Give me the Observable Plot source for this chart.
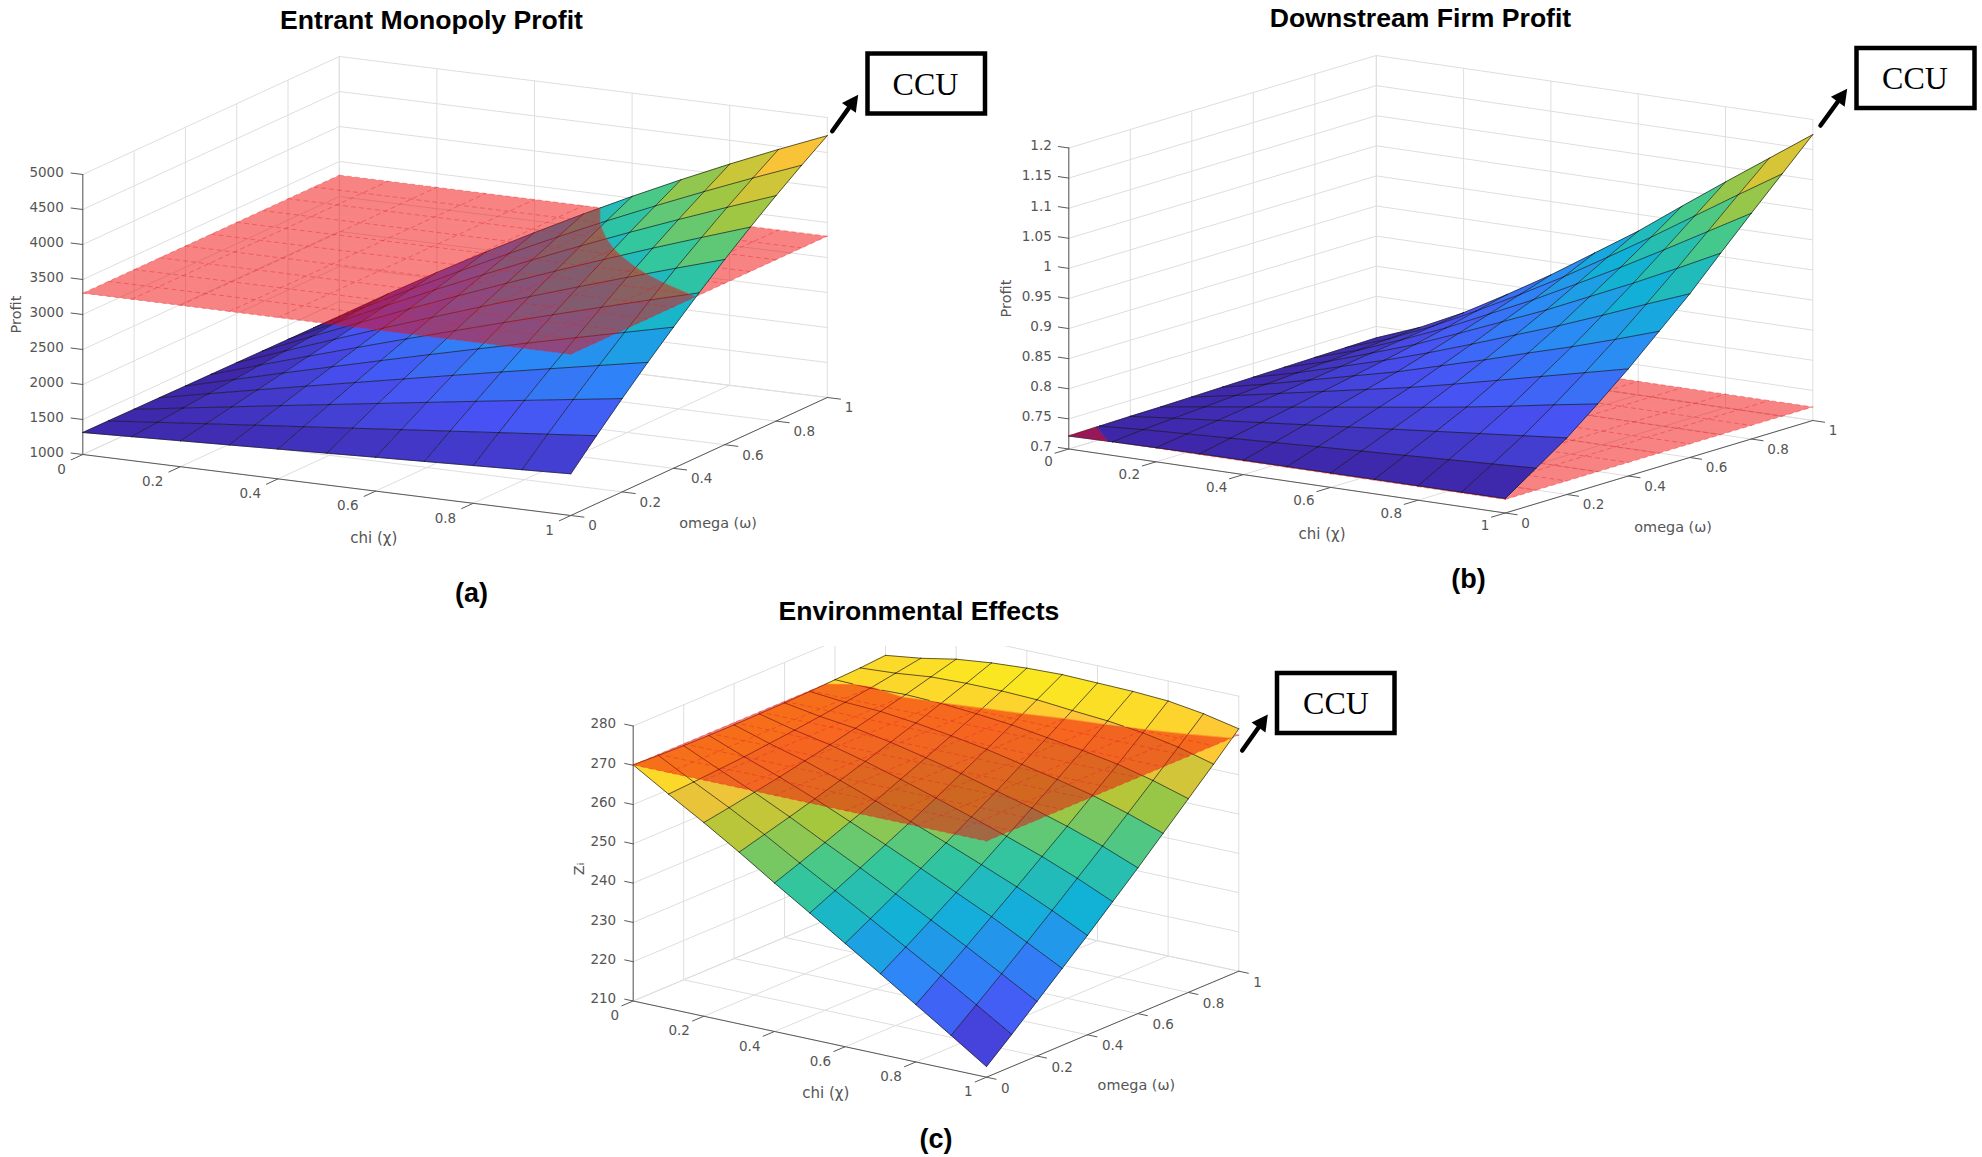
<!DOCTYPE html>
<html><head><meta charset="utf-8">
<style>html,body{margin:0;padding:0;background:#fff}svg{display:block}</style>
<script src="https://cdn.jsdelivr.net/npm/d3@7"></script>
<script src="https://cdn.jsdelivr.net/npm/@observablehq/plot@0.6"></script>
</head><body><div id="chart"></div>
<script>
// ---- data ----
const chiValues   = [0,.1,.2,.3,.4,.5,.6,.7,.8,.9,1];
const omegaValues = [0,.1,.2,.3,.4,.5,.6,.7,.8,.9,1];
const axisTicks   = [0,.2,.4,.6,.8,1];

// rows: omega, columns: chi
const entrantProfit = [
 [1314,1342,1370,1398,1426,1455,1483,1511,1539,1567,1595],
 [1312,1378,1445,1511,1577,1643,1710,1775,1841,1906,1971],
 [1309,1414,1518,1622,1725,1828,1930,2032,2133,2233,2333],
 [1307,1450,1592,1732,1871,2009,2147,2283,2417,2550,2682],
 [1304,1485,1664,1840,2015,2188,2358,2526,2691,2855,3016],
 [1302,1521,1736,1948,2157,2362,2565,2763,2958,3150,3338],
 [1300,1557,1808,2055,2297,2534,2767,2994,3216,3434,3646],
 [1297,1591,1879,2160,2434,2701,2963,3217,3465,3705,3940],
 [1295,1627,1950,2264,2569,2866,3155,3435,3705,3967,4221],
 [1292,1661,2019,2366,2702,3027,3342,3644,3936,4217,4487],
 [1290,1696,2089,2468,2833,3185,3524,3849,4160,4457,4741]
];
const downstreamProfit = [
 [.7215,.7226,.7235,.724,.724,.724,.724,.724,.724,.724,.724],
 [.7226,.7275,.731,.7345,.738,.7415,.745,.7485,.752,.7555,.759],
 [.7235,.731,.738,.745,.752,.759,.766,.773,.780,.787,.794],
 [.724,.7345,.745,.7555,.766,.7765,.787,.798,.810,.823,.835],
 [.725,.738,.752,.766,.780,.794,.810,.827,.844,.861,.878],
 [.726,.7415,.759,.7765,.794,.8145,.835,.857,.878,.901,.925],
 [.727,.745,.766,.787,.810,.835,.861,.887,.915,.944,.972],
 [.728,.7485,.773,.798,.827,.857,.887,.920,.953,.988,1.024],
 [.729,.752,.780,.810,.844,.878,.915,.953,.993,1.034,1.075],
 [.730,.7555,.787,.823,.861,.901,.944,.988,1.034,1.080,1.125],
 [.731,.759,.794,.835,.878,.925,.972,1.024,1.075,1.125,1.175]
];
const environmentalEffects = [
 [270.1,264.6,259.3,253.7,247.8,242.1,236.3,230.5,224.6,218.7,212.7],
 [269.8,265.0,260.4,255.5,250.2,245.1,239.9,234.6,229.3,223.8,218.2],
 [269.6,265.5,261.6,257.3,252.7,248.2,243.5,238.8,234.0,229.0,223.9],
 [269.5,266.0,262.8,259.2,255.3,251.4,247.3,243.1,238.9,234.3,229.6],
 [269.5,266.7,264.2,261.2,257.9,254.6,251.1,247.5,243.8,239.7,235.3],
 [269.6,267.4,265.6,263.3,260.7,257.9,255.0,252.0,248.8,245.2,241.2],
 [269.7,268.2,267.1,265.5,263.5,261.4,258.9,256.5,253.8,250.7,247.1],
 [269.9,269.1,268.7,267.7,266.4,264.9,263.0,261.1,259.0,256.3,253.2],
 [270.2,270.0,270.3,270.0,269.3,268.4,267.1,265.8,264.2,262.0,259.3],
 [270.5,271.1,272.1,272.4,272.4,272.1,271.3,270.6,269.5,267.8,265.4],
 [271.0,272.2,273.9,274.9,275.5,275.8,275.6,275.4,274.9,273.6,271.7]
];
const entrantPlane = 3305, downstreamPlane = .7225, environmentPlane = 270.1;

const entrantTicks    = [1000,1500,2000,2500,3000,3500,4000,4500,5000];
const downstreamTicks = [.7,.75,.8,.85,.9,.95,1,1.05,1.1,1.15,1.2];
const environmentTicks= [210,220,230,240,250,260,270,280];

const parulaStops  = [0,1/7,2/7,3/7,4/7,5/7,6/7,1];
const parulaColors = ["#3e26a8","#4852f4","#2d87f7","#12b1d6","#37c897","#abc739","#fec338","#f9fb14"];

// ---- layout of the three views ----
const views = [
 {grid:entrantProfit, plane:entrantPlane, ticks:entrantTicks, zMin:1000, zMax:5000,
  O:[82.3,454], A:[488,61], B:[256.5,-118], H:280,
  title:"Entrant Monopoly Profit", titleAt:[431,20], tag:"(a)", tagAt:[471,593],
  zLabel:"Profit", zLabelAt:[15.7,314], chiOff:[-17,15], omOff:[17.5,10.5], chiTitle:[47,53], omTitle:[19,67], zOff:-19,
  box:[867.5,985,53.5,113.5], ccuAt:[925,84], arrow:[831.7,130.7,857.7,94.3]},
 {grid:downstreamProfit, plane:downstreamPlane, ticks:downstreamTicks, zMin:.7, zMax:1.2,
  O:[1068.3,448.5], A:[436.5,64], B:[307.5,-92.5], H:301,
  title:"Downstream Firm Profit", titleAt:[1420,18], tag:"(b)", tagAt:[1468,579],
  zLabel:"Profit", zLabelAt:[1005.6,298], chiOff:[-16,13], omOff:[16,10.5], chiTitle:[35,53], omTitle:[14,61], zOff:-17,
  box:[1856.5,1974.5,48,108], ccuAt:[1914.5,78], arrow:[1820,125,1846.7,88.3]},
 {grid:environmentalEffects, plane:environmentPlane, ticks:environmentTicks, zMin:210, zMax:280,
  O:[632.7,1000.5], A:[353.3,76.2], B:[252.3,-106], H:275,
  title:"Environmental Effects", titleAt:[918.5,610.6], tag:"(c)", tagAt:[935.5,1139],
  zLabel:"Zᵢ", zLabelAt:[578.7,868.5], chiOff:[-14,14.7], omOff:[14.5,11.2], chiTitle:[16,54], omTitle:[23.7,61], zOff:-17,
  box:[1277,1394.5,673,733], ccuAt:[1335.5,703], arrow:[1241.7,750,1267.3,714], topCut:646}
];

// ---- projection of (chi, omega, z) into the plot's x/y ----
const project = (v,c,o,z)=>[
  v.O[0]+c*v.A[0]+o*v.B[0],
  v.O[1]+c*v.A[1]+o*v.B[1]-(z-v.zMin)/(v.zMax-v.zMin)*v.H
];

// collections handed to the marks
const walls=[],axes=[],tickEnd=[],tickStart=[],below=[],belowMesh=[],above=[],aboveMesh=[],planes=[],planeMesh=[],shafts=[],heads=[];
let uid=0;
const pushPath=(arr,v,pts,extra={})=>{const id=uid++;for(const p of pts){const [x,y]=project(v,p.c,p.o,p.z);arr.push({id,x,y,...extra});}};
const clip=(poly,P,keepAbove)=>{
  const out=[],s=keepAbove?1:-1;
  for(let k=0;k<poly.length;k++){
    const a=poly[k],b=poly[(k+1)%poly.length];
    const da=s*(a.z-P),db=s*(b.z-P);
    if(da>=0)out.push(a);
    if((da>0&&db<0)||(da<0&&db>0)){const t=da/(da-db);out.push({c:a.c+t*(b.c-a.c),o:a.o+t*(b.o-a.o),z:a.z+t*(b.z-a.z)});}
  }
  return out;
};
const splitSeg=(a,b,P)=>{
  if(a.z>=P&&b.z>=P)return {up:[a,b]};
  if(a.z<=P&&b.z<=P)return {down:[a,b]};
  const t=(P-a.z)/(b.z-a.z),m={c:a.c+t*(b.c-a.c),o:a.o+t*(b.o-a.o),z:P};
  return a.z>P?{up:[a,m],down:[m,b]}:{up:[m,b],down:[a,m]};
};

for(const v of views){
  const zs=v.grid.flat(),lo=d3.min(zs),hi=d3.max(zs),P=v.plane;
  const pt=(i,j)=>({c:chiValues[i],o:omegaValues[j],z:v.grid[j][i]});
  // walls and floor
  for(const t of v.ticks){
    pushPath(walls,v,[{c:0,o:0,z:t},{c:0,o:1,z:t},{c:1,o:1,z:t}]);
    pushPath(axes,v,[{c:0,o:0,z:t},{c:-.024,o:0,z:t}]);
    const [x,y]=project(v,0,0,t);
    tickEnd.push({x:x+v.zOff,y:y-2,text:String(t)});
  }
  for(const t of axisTicks){
    pushPath(walls,v,[{c:t,o:0,z:v.zMin},{c:t,o:1,z:v.zMin},{c:t,o:1,z:v.zMax}]);
    pushPath(walls,v,[{c:0,o:t,z:v.zMax},{c:0,o:t,z:v.zMin},{c:1,o:t,z:v.zMin}]);
    pushPath(axes,v,[{c:t,o:0,z:v.zMin},{c:t,o:-.045,z:v.zMin}]);
    pushPath(axes,v,[{c:1,o:t,z:v.zMin},{c:1.027,o:t,z:v.zMin}]);
    const [x1,y1]=project(v,t,0,v.zMin),[x2,y2]=project(v,1,t,v.zMin);
    tickEnd.push({x:x1+v.chiOff[0],y:y1+v.chiOff[1],text:String(t)});
    tickStart.push({x:x2+v.omOff[0],y:y2+v.omOff[1],text:String(t)});
  }
  pushPath(axes,v,[{c:0,o:0,z:v.zMax},{c:0,o:0,z:v.zMin},{c:1,o:0,z:v.zMin},{c:1,o:1,z:v.zMin}]);
  // surface cells, far to near, cut along the plane
  for(let j=9;j>=0;j--)for(let i=0;i<10;i++){
    const t=(v.grid[j][i]-lo)/(hi-lo);
    const cell=[pt(i,j),pt(i+1,j),pt(i+1,j+1),pt(i,j+1)];
    const b=clip(cell,P,false),a=clip(cell,P,true);
    if(b.length>2)pushPath(below,v,b,{t});
    if(a.length>2)pushPath(above,v,a,{t});
  }
  for(let j=0;j<=10;j++)for(let i=0;i<=10;i++){
    const segs=[];
    if(i<10)segs.push(splitSeg(pt(i,j),pt(i+1,j),P));
    if(j<10)segs.push(splitSeg(pt(i,j),pt(i,j+1),P));
    for(const s of segs){if(s.up)pushPath(aboveMesh,v,s.up);if(s.down)pushPath(belowMesh,v,s.down);}
  }
  // flat reference plane
  pushPath(planes,v,[{c:0,o:0,z:P},{c:1,o:0,z:P},{c:1,o:1,z:P},{c:0,o:1,z:P}]);
  for(const g of chiValues){
    pushPath(planeMesh,v,[{c:g,o:0,z:P},{c:g,o:1,z:P}]);
    pushPath(planeMesh,v,[{c:0,o:g,z:P},{c:1,o:g,z:P}]);
  }
  const [cx,cy]=project(v,.5,0,v.zMin),[ox,oy]=project(v,1,.5,v.zMin);
  v.chiAt=[cx+v.chiTitle[0],cy+v.chiTitle[1]];
  v.omAt=[ox+v.omTitle[0],oy+v.omTitle[1]];
  // CCU arrow: shaft and solid head
  const [ax,ay,bx,by]=v.arrow,len=Math.hypot(bx-ax,by-ay),ux=(bx-ax)/len,uy=(by-ay)/len,hl=16,hw=8.5;
  const mx=bx-ux*hl,my=by-uy*hl,id=uid++;
  shafts.push({id,x:ax,y:ay},{id,x:mx,y:my});
  heads.push({id,x:bx,y:by},{id,x:mx-uy*hw,y:my+ux*hw},{id,x:mx+uy*hw,y:my-ux*hw});
}

const grey="#555", sans="'DejaVu Sans'", bold="'Liberation Sans'", serif="'Liberation Serif'";
const surfaceFill=d=>Plot.line(d,{x:"x",y:"y",z:"id",fill:"t",stroke:"t",strokeWidth:.5,curve:"linear-closed"});
const mesh=d=>Plot.line(d,{x:"x",y:"y",z:"id",stroke:"#161616",strokeOpacity:.8,strokeWidth:.85});

const plot=Plot.plot({
  width:1982,height:1157,marginTop:0,marginRight:0,marginBottom:0,marginLeft:0,
  style:{background:"#fff"},
  x:{domain:[0,1982],range:[0,1982],axis:null},
  y:{domain:[0,1157],range:[0,1157],axis:null},
  color:{type:"linear",domain:parulaStops,range:parulaColors,legend:false},
  marks:[
    Plot.line(walls,{x:"x",y:"y",z:"id",stroke:"#dedede",strokeWidth:1}),
    Plot.rect(views.filter(v=>v.topCut),{x1:d=>d.O[0]+150,x2:d=>d.O[0]+620,y1:d=>d.topCut-36,y2:"topCut",fill:"#fff"}),
    Plot.line(axes,{x:"x",y:"y",z:"id",stroke:"#5a5a5a",strokeWidth:1}),
    surfaceFill(below),
    mesh(belowMesh),
    Plot.line(planes,{x:"x",y:"y",z:"id",fill:"#f00808",fillOpacity:.5,stroke:"none",curve:"linear-closed"}),
    Plot.line(planeMesh,{x:"x",y:"y",z:"id",stroke:"#e61e28",strokeOpacity:.5,strokeWidth:.8,strokeDasharray:"4 4"}),
    surfaceFill(above),
    mesh(aboveMesh),
    Plot.text(tickEnd,{x:"x",y:"y",text:"text",textAnchor:"end",fill:grey,fontSize:13.5,fontFamily:sans}),
    Plot.text(tickStart,{x:"x",y:"y",text:"text",textAnchor:"start",fill:grey,fontSize:13.5,fontFamily:sans}),
    Plot.text(views,{x:d=>d.chiAt[0],y:d=>d.chiAt[1],text:()=>"chi (χ)",fill:grey,fontSize:15,fontFamily:sans}),
    Plot.text(views,{x:d=>d.omAt[0],y:d=>d.omAt[1],text:()=>"omega (ω)",fill:grey,fontSize:14.4,fontFamily:sans}),
    Plot.text(views,{x:d=>d.zLabelAt[0],y:d=>d.zLabelAt[1],text:"zLabel",rotate:-90,fill:grey,fontSize:14.5,fontFamily:sans}),
    Plot.text(views,{x:d=>d.titleAt[0],y:d=>d.titleAt[1],text:"title",fill:"#000",fontSize:26.6,fontWeight:"bold",fontFamily:bold}),
    Plot.text(views,{x:d=>d.tagAt[0],y:d=>d.tagAt[1],text:"tag",fill:"#000",fontSize:27,fontWeight:"bold",fontFamily:bold}),
    Plot.rect(views,{x1:d=>d.box[0],x2:d=>d.box[1],y1:d=>d.box[2],y2:d=>d.box[3],fill:"#fff",stroke:"#000",strokeWidth:4.5}),
    Plot.text(views,{x:d=>d.ccuAt[0],y:d=>d.ccuAt[1],text:()=>"CCU",fill:"#000",fontSize:32,fontFamily:serif}),
    Plot.line(shafts,{x:"x",y:"y",z:"id",stroke:"#000",strokeWidth:4.5}),
    Plot.line(heads,{x:"x",y:"y",z:"id",fill:"#000",stroke:"none",curve:"linear-closed"})
  ]
});
document.getElementById("chart").appendChild(plot);
</script></body></html>
